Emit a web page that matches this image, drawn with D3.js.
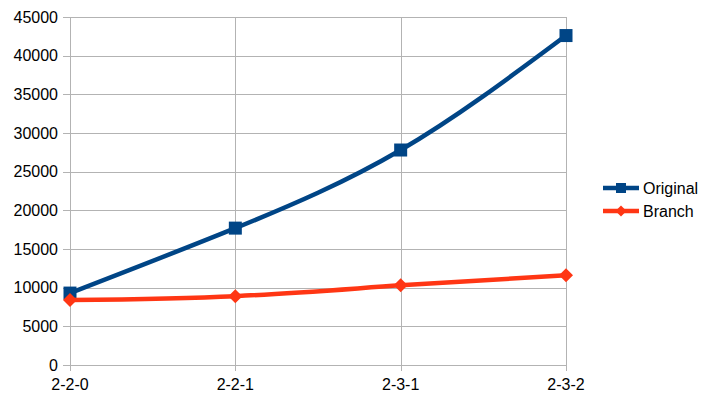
<!DOCTYPE html>
<html>
<head>
<meta charset="utf-8">
<script src="https://cdn.jsdelivr.net/npm/d3@7"></script>
<style>
  body { margin: 0; background: #fff; }
  text { font-family: "Liberation Sans", Arial, sans-serif; fill: #000; }
</style>
</head>
<body>
<svg width="712" height="400"></svg>
<script>
// chart values
var categories = ["2-2-0", "2-2-1", "2-3-1", "2-3-2"];
var originalValues = [9300, 17700, 27800, 42600];
var branchValues = [8400, 8900, 10300, 11600];
var yTicks = [0, 5000, 10000, 15000, 20000, 25000, 30000, 35000, 40000, 45000];

var series = [
  {name: "Original", values: originalValues, color: "#004586", marker: "square"},
  {name: "Branch", values: branchValues, color: "#ff3614", marker: "diamond"}
];

var svg = d3.select("svg"),
    margin = {left: 70, right: 146, top: 17, bottom: 35},
    width = +svg.attr("width") - margin.left - margin.right,
    height = +svg.attr("height") - margin.top - margin.bottom;

var x = d3.scalePoint().domain(categories).range([0, width]);
var y = d3.scaleLinear().domain([0, 45000]).range([height, 0]);

var g = svg.append("g")
    .attr("transform", "translate(" + margin.left + "," + margin.top + ")");

// horizontal grid
g.append("g")
  .selectAll("line")
  .data(yTicks)
  .enter().append("line")
    .attr("x1", -7)
    .attr("x2", width)
    .attr("y1", function(d) { return Math.round(y(d)) + 0.5; })
    .attr("y2", function(d) { return Math.round(y(d)) + 0.5; })
    .attr("stroke", "#b3b3b3");

// vertical grid + ticks
g.append("g")
  .selectAll("line")
  .data(categories)
  .enter().append("line")
    .attr("x1", function(d) { return Math.round(x(d)) + 0.5; })
    .attr("x2", function(d) { return Math.round(x(d)) + 0.5; })
    .attr("y1", 0)
    .attr("y2", height + 6)
    .attr("stroke", "#b3b3b3");

// y labels
g.append("g")
  .selectAll("text")
  .data(yTicks)
  .enter().append("text")
    .attr("x", -12)
    .attr("y", function(d) { return y(d); })
    .attr("dy", "0.35em")
    .attr("text-anchor", "end")
    .style("font-size", "16px")
    .text(function(d) { return d; });

// x labels
g.append("g")
  .selectAll("text")
  .data(categories)
  .enter().append("text")
    .attr("x", function(d) { return x(d); })
    .attr("y", height + 25)
    .attr("text-anchor", "middle")
    .style("font-size", "16px")
    .text(function(d) { return d; });

var line = d3.line()
    .x(function(d, i) { return x(categories[i]); })
    .y(function(d) { return y(d); })
    .curve(d3.curveNatural);

function drawMarker(sel, type, size, color) {
  if (type === "square") {
    sel.append("rect")
      .attr("x", -size / 2).attr("y", -size / 2)
      .attr("width", size).attr("height", size)
      .attr("fill", color);
  } else {
    var s = size / 2;
    sel.append("path")
      .attr("d", "M0," + (-s) + "L" + s + ",0L0," + s + "L" + (-s) + ",0Z")
      .attr("fill", color);
  }
}

series.forEach(function(s) {
  g.append("path")
    .datum(s.values)
    .attr("fill", "none")
    .attr("stroke", s.color)
    .attr("stroke-width", 4.5)
    .attr("d", line);

  g.append("g")
    .selectAll("g")
    .data(s.values)
    .enter().append("g")
      .attr("transform", function(d, i) {
        return "translate(" + x(categories[i]) + "," + y(d) + ")";
      })
      .each(function() {
        drawMarker(d3.select(this), s.marker, s.marker === "square" ? 13 : 14, s.color);
      });
});

// legend
var legend = svg.append("g")
    .attr("transform", "translate(603,188)");

var items = legend.selectAll("g")
  .data(series)
  .enter().append("g")
    .attr("transform", function(d, i) { return "translate(0," + (i * 23) + ")"; });

items.append("line")
  .attr("x1", 0).attr("x2", 36)
  .attr("y1", 0).attr("y2", 0)
  .attr("stroke", function(d) { return d.color; })
  .attr("stroke-width", 4.5);

items.each(function(d) {
  var m = d3.select(this).append("g").attr("transform", "translate(18,0)");
  drawMarker(m, d.marker, d.marker === "square" ? 10 : 11, d.color);
});

items.append("text")
  .attr("x", 40)
  .attr("y", 0)
  .attr("dy", "0.35em")
  .style("font-size", "16px")
  .text(function(d) { return d.name; });
</script>
</body>
</html>
